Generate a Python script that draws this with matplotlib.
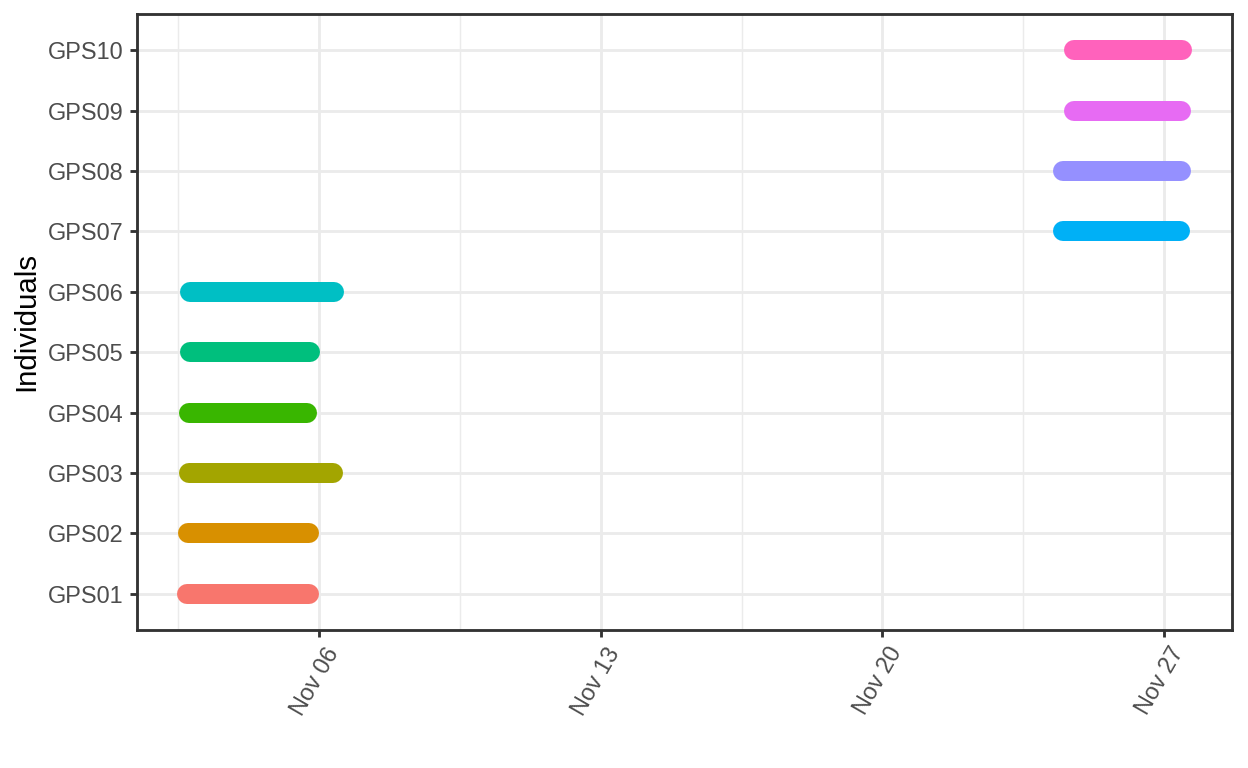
import datetime as dt
import matplotlib
matplotlib.use('Agg')
import matplotlib.pyplot as plt
import matplotlib.dates as mdates
import matplotlib.transforms as mtransforms

plt.rcParams['font.family'] = ['Liberation Sans', 'DejaVu Sans']

# tracking periods per individual
individuals = ['GPS01', 'GPS02', 'GPS03', 'GPS04', 'GPS05',
               'GPS06', 'GPS07', 'GPS08', 'GPS09', 'GPS10']
starts = ['2019-11-02 17:00', '2019-11-02 17:30', '2019-11-02 18:15', '2019-11-02 18:15',
          '2019-11-02 18:45', '2019-11-02 18:45', '2019-11-24 11:45', '2019-11-24 11:45',
          '2019-11-24 18:30', '2019-11-24 18:30']
ends = ['2019-11-05 18:00', '2019-11-05 17:45', '2019-11-06 08:00', '2019-11-05 17:00',
        '2019-11-05 18:15', '2019-11-06 08:40', '2019-11-27 09:40', '2019-11-27 10:00',
        '2019-11-27 10:20', '2019-11-27 10:50']
colors = ['#F8766D', '#D89000', '#A3A500', '#39B600', '#00BF7D',
          '#00BFC4', '#00B0F6', '#9590FF', '#E76BF3', '#FF62BC']
major_dates = ['2019-11-06', '2019-11-13', '2019-11-20', '2019-11-27']
minor_dates = ['2019-11-02 12:00', '2019-11-09 12:00', '2019-11-16 12:00', '2019-11-23 12:00']

fmt = '%Y-%m-%d %H:%M'
t0 = [dt.datetime.strptime(s, fmt) for s in starts]
t1 = [dt.datetime.strptime(s, fmt) for s in ends]

fig = plt.figure(figsize=(6.5, 4), dpi=192)
ax = fig.add_axes([0.1098, 0.1797, 0.8774, 0.8021])

for i, name in enumerate(individuals):
    ax.plot([t0[i], t1[i]], [i, i], color=colors[i], linewidth=7.5,
            solid_capstyle='round', zorder=3)

ax.set_ylim(-0.6, len(individuals) - 0.4)
ax.set_yticks(range(len(individuals)))
ax.set_yticklabels(individuals)
ax.margins(x=0.05)

ax.set_xticks([dt.datetime.strptime(d, '%Y-%m-%d') for d in major_dates])
ax.set_xticks([dt.datetime.strptime(d, fmt) for d in minor_dates], minor=True)
ax.xaxis.set_major_formatter(mdates.DateFormatter('%b %d'))

ax.grid(which='major', color='#EBEBEB', linewidth=1.07, zorder=0)
ax.grid(which='minor', axis='x', color='#EBEBEB', linewidth=0.53, zorder=0)
ax.set_axisbelow(True)

for sp in ax.spines.values():
    sp.set_color('#333333')
    sp.set_linewidth(1.07)

ax.tick_params(axis='both', which='major', length=2.75, width=1.07, color='#333333',
               labelsize=8.8, labelcolor='#4D4D4D', pad=2.2)
ax.tick_params(axis='x', which='minor', length=0)
shift = mtransforms.ScaledTranslation(1.5 / 72, 0, fig.dpi_scale_trans)
for lab in ax.get_xticklabels():
    lab.set_rotation(60)
    lab.set_ha('right')
    lab.set_va('top')
    lab.set_rotation_mode('anchor')
    lab.set_transform(lab.get_transform() + shift)

ax.set_ylabel('Individuals', fontsize=11, color='black', labelpad=3)

fig.savefig('out.png', dpi=192)
